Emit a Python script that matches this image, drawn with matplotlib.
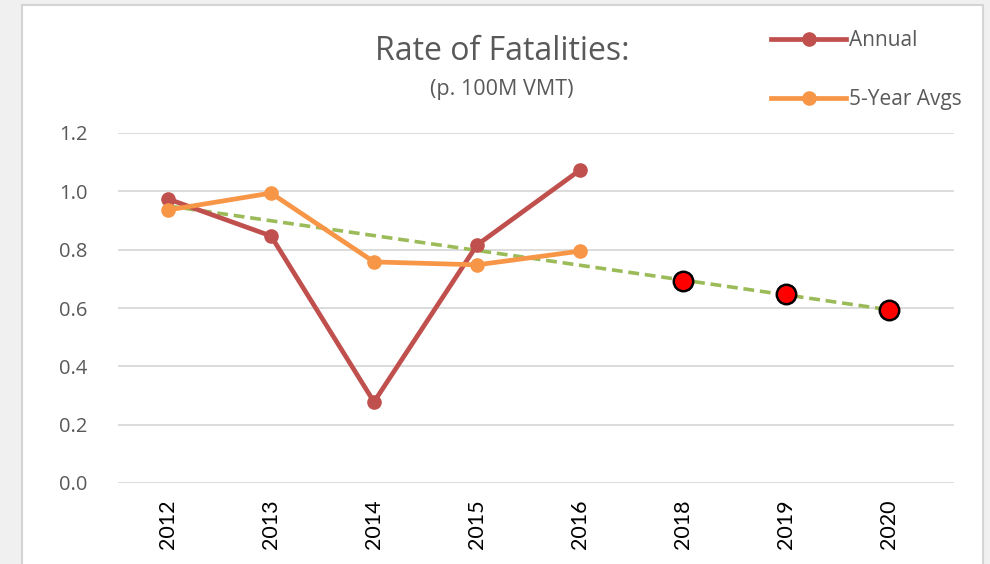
import matplotlib
matplotlib.use("Agg")
import matplotlib.pyplot as plt
from matplotlib.patches import Rectangle
from matplotlib.lines import Line2D

years = ["2012", "2013", "2014", "2015", "2016", "2018", "2019", "2020"]
annual = [0.974, 0.847, 0.278, 0.816, 1.073]
five_year = [0.936, 0.994, 0.758, 0.748, 0.795]
target_years = ["2018", "2019", "2020"]
targets = [0.691, 0.647, 0.594]
trend_years = ["2012", "2020"]
trend = [0.950, 0.594]

C_ANN = "#C0504D"
C_AVG = "#F79646"
C_TREND = "#9BBB59"
GRAY = "#595959"

fig = plt.figure(figsize=(9.9, 5.64), dpi=100)
fig.patch.set_facecolor("#f0f0f0")
W, H = 990, 564
bg = fig.add_axes([0, 0, 1, 1], zorder=-10)
bg.set_xlim(0, W)
bg.set_ylim(H, 0)
bg.axis("off")
bg.add_patch(Rectangle((22, 5), 961, 570, facecolor="white",
                       edgecolor="#d4d4d4", linewidth=1.5))

ax = fig.add_axes([118 / W, 81 / H, (954 - 118) / W, (483 - 133) / H])
ax.set_facecolor("none")
pos = {y: i for i, y in enumerate(years)}
xs = list(range(len(years)))

ax.plot([pos[y] for y in trend_years], trend, color=C_TREND, lw=2.6,
        ls=(0, (3, 1.6)), zorder=2)
ax.plot(xs[:len(annual)], annual, color=C_ANN, lw=3.4, marker="o",
        markersize=9.5, zorder=3)
ax.plot(xs[:len(five_year)], five_year, color=C_AVG, lw=3.4, marker="o",
        markersize=9.5, zorder=4)
ax.plot([pos[y] for y in target_years], targets, ls="none", marker="o",
        markersize=14, markerfacecolor="#FF0000", markeredgecolor="black",
        markeredgewidth=1.8, zorder=5)

ax.set_xlim(-0.485, 7.63)
ax.set_ylim(0, 1.2)
ticks = [0, 0.2, 0.4, 0.6, 0.8, 1.0, 1.2]
ax.set_yticks(ticks)
ax.set_yticklabels([f"{v:.1f}" for v in ticks])
ax.set_xticks(xs)
ax.set_xticklabels(years, rotation=90, fontsize=15.5, color="black",
                   family=["Lato", "DejaVu Sans"])
ax.grid(axis="y", color="#d9d9d9", lw=1.3)
ax.set_axisbelow(True)
for s in ax.spines.values():
    s.set_visible(False)
ax.tick_params(axis="both", length=0)
ax.tick_params(axis="y", labelsize=14.5, labelcolor=GRAY, pad=22)
ax.tick_params(axis="x", pad=12)
for t in ax.get_yticklabels():
    t.set_family(["Open Sans", "DejaVu Sans"])

fig.text(502 / W, 1 - 52 / H, "Rate of Fatalities:", ha="center", va="center",
         fontsize=23, color=GRAY, family=["Open Sans", "DejaVu Sans"])
fig.text(502 / W, 1 - 90 / H, "(p. 100M VMT)", ha="center", va="center",
         fontsize=15.5, color=GRAY, family=["Open Sans", "DejaVu Sans"])

handles = [Line2D([], [], color=C_ANN, lw=3.4, marker="o", markersize=9.5),
           Line2D([], [], color=C_AVG, lw=3.4, marker="o", markersize=9.5)]
leg = fig.legend(handles, ["Annual", "5-Year Avgs"], loc="upper left",
                 bbox_to_anchor=(763 / W, 1 - 22 / H), frameon=False,
                 handlelength=3.6, handletextpad=0.15, labelspacing=1.8,
                 borderaxespad=0,
                 prop={"family": ["Open Sans", "DejaVu Sans"], "size": 15})
for t in leg.get_texts():
    t.set_color(GRAY)

fig.savefig("out.png", dpi=100, facecolor=fig.get_facecolor())
